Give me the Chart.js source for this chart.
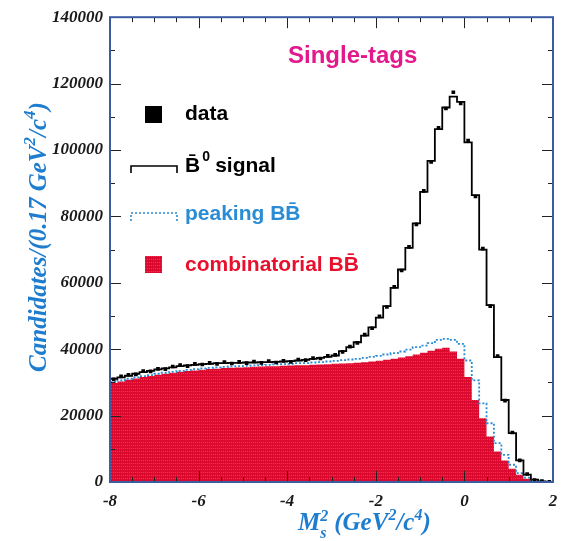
<!DOCTYPE html>
<html>
<head>
<meta charset="utf-8">
<script src="https://cdn.jsdelivr.net/npm/chart.js@4.4.1/dist/chart.umd.min.js"></script>
<style>
  html, body { margin: 0; padding: 0; background: #fff; }
  #wrap { width: 570px; height: 541px; }
</style>
</head>
<body>
<div id="wrap"><canvas id="grafico" width="570" height="541"></canvas></div>
<script>
// binning: 60 bins of 1/6 GeV^2/c^4 from -8 to 2
const xMin = -8
const xMax = 2
const nBins = 60
const binW = (xMax - xMin) / nBins

const xTicks = [-8, -6, -4, -2, 0, 2]
const yTicks = [0, 20000, 40000, 60000, 80000, 100000, 120000, 140000]

// stacked fit: total (signal + peaking + combinatorial)
const totalFit = [31100,31500,32000,32600,33100,33500,33900,34200,34500,34900,
  35100,35300,35500,35600,35800,35800,35900,35900,36000,36000,
  36100,36100,36200,36300,36400,36600,36800,37100,37400,37700,
  38100,39400,40600,42100,44100,46600,49500,53000,58500,64000,
  70500,77900,87400,96700,106300,112800,116100,114500,102300,86400,
  70000,53300,37600,24700,14700,6500,2200,700,200,50]

// peaking BB + combinatorial
const peakingBB = [30100,30600,31100,31500,31900,32200,32600,32900,33200,33500,
  33800,34000,34200,34400,34500,34700,34800,34900,35000,35100,
  35200,35300,35400,35500,35600,35800,35800,36000,36100,36300,
  36500,36700,36900,37100,37400,37700,38000,38400,38800,39300,
  39900,40600,41100,41800,42800,43100,42800,41600,36600,30600,
  23700,17700,11700,8200,5200,2700,1300,400,100,0]

// combinatorial BB
const combBB = [29800,30300,30800,31200,31600,31900,32300,32600,32900,33200,
  33400,33600,33800,34000,34100,34300,34400,34500,34600,34700,
  34800,34900,34900,35000,35100,35200,35200,35300,35400,35500,
  35600,35700,35800,35900,36100,36300,36500,36800,37100,37500,
  37900,38400,38900,39500,40100,40400,39300,37100,31600,24700,
  19200,13700,9200,6500,4000,2200,950,250,60,0]

// data points
const dataPts = [30900,31800,32300,32400,33400,33300,34100,34000,34800,35200,
  34900,35600,35400,35900,35600,36100,35700,36200,35800,36300,
  35900,36400,36000,36500,36200,36900,36700,37300,37200,38000,
  38300,39200,40800,41900,44400,46300,49900,52700,58800,63700,
  70800,77600,87700,96400,106700,112500,117400,114000,102800,86000,
  70300,53000,37900,24500,14900,6500,2400,600,250,80]

const ROJO = '#dc0a2e'
const AZUL = '#2a8cd4'
const AZUL_TITULO = '#1f7dcf'
const MAGENTA = '#e3188c'
const MARCO = '#3b5ca3'

// histogram points at bin edges (stepped line)
function escalones(vals) {
  const pts = vals.map((v, i) => ({ x: xMin + i * binW, y: v }))
  pts.push({ x: xMax, y: vals[vals.length - 1] })
  return pts
}

// red fill with faint dotted texture
function patronRojo() {
  const c = document.createElement('canvas')
  c.width = 4; c.height = 3
  const g = c.getContext('2d')
  g.fillStyle = ROJO
  g.fillRect(0, 0, 4, 3)
  g.fillStyle = '#e33a52'
  g.fillRect(1, 1, 1, 1)
  g.fillRect(3, 1, 1, 1)
  return g.createPattern(c, 'repeat')
}
const rellenoRojo = patronRojo()

const serif = '"Liberation Serif", "DejaVu Serif", serif'
const sans = '"Liberation Sans", Arial, sans-serif'

// draws a list of [text, size, dy] pieces from x,y; returns end x
function piezas(ctx, partes, x, y, estilo, familia) {
  partes.forEach(([t, size, dy]) => {
    ctx.font = estilo + ' ' + size + 'px ' + familia
    ctx.fillText(t, x, y + dy)
    x += ctx.measureText(t).width
  })
  return x
}
function anchoPiezas(ctx, partes, estilo, familia) {
  let w = 0
  partes.forEach(([t, size]) => {
    ctx.font = estilo + ' ' + size + 'px ' + familia
    w += ctx.measureText(t).width
  })
  return w
}

// ticks inside the frame, frame, legend and titles
const decoracion = {
  id: 'decoracion',
  afterDatasetsDraw(chart) {
    const { ctx, chartArea: a, scales } = chart
    const sx = scales.x, sy = scales.y
    ctx.save()
    ctx.strokeStyle = '#222'
    ctx.lineWidth = 1
    ctx.beginPath()
    for (let v = xMin; v <= xMax + 1e-9; v += 0.5) {
      const px = Math.round(sx.getPixelForValue(v)) + 0.5
      const len = xTicks.includes(Math.round(v * 2) / 2) ? 11 : 5
      ctx.moveTo(px, a.bottom); ctx.lineTo(px, a.bottom - len)
      ctx.moveTo(px, a.top); ctx.lineTo(px, a.top + len)
    }
    for (let v = 0; v <= 140000; v += 10000) {
      const py = Math.round(sy.getPixelForValue(v)) + 0.5
      const len = v % 20000 === 0 ? 11 : 5
      ctx.moveTo(a.left, py); ctx.lineTo(a.left + len, py)
      ctx.moveTo(a.right, py); ctx.lineTo(a.right - len, py)
    }
    ctx.stroke()
    ctx.strokeStyle = MARCO
    ctx.lineWidth = 2
    ctx.strokeRect(a.left, a.top, a.right - a.left, a.bottom - a.top)
    ctx.restore()
  },
  afterDraw(chart) {
    const { ctx } = chart
    ctx.save()
    ctx.textBaseline = 'middle'

    // title
    ctx.fillStyle = MAGENTA
    ctx.font = 'bold 24px ' + sans
    ctx.fillText('Single-tags', 288, 56)

    // legend
    const fl = 'bold 21px ' + sans
    ctx.font = fl
    ctx.fillStyle = '#000'
    ctx.fillRect(145, 106, 17, 17)
    ctx.fillText('data', 185, 114)

    ctx.strokeStyle = '#000'
    ctx.lineWidth = 1.6
    ctx.beginPath()
    ctx.moveTo(131, 173); ctx.lineTo(131, 166); ctx.lineTo(177, 166); ctx.lineTo(177, 173)
    ctx.stroke()
    ctx.font = fl
    ctx.fillText('B\u0304', 185, 166)
    let w = ctx.measureText('B').width
    ctx.font = 'bold 14px ' + sans
    ctx.fillText('0', 185 + w + 2, 157)
    ctx.font = fl
    ctx.fillText('signal', 185 + w + 15, 166)

    ctx.strokeStyle = AZUL
    ctx.setLineDash([2, 2])
    ctx.beginPath()
    ctx.moveTo(131, 221); ctx.lineTo(131, 213); ctx.lineTo(177, 213); ctx.lineTo(177, 221)
    ctx.stroke()
    ctx.setLineDash([])
    ctx.fillStyle = AZUL
    ctx.fillText('peaking BB\u0304', 185, 214)

    ctx.fillStyle = rellenoRojo
    ctx.fillRect(145, 256, 17, 17)
    ctx.fillStyle = '#e8112d'
    ctx.fillText('combinatorial BB\u0304', 185, 265)

    // y axis title
    ctx.fillStyle = AZUL_TITULO
    const tituloY = [['Candidates/(0.17 GeV', 25, 0], ['2', 17, -9], ['/c', 25, 0], ['4', 17, -9], [')', 25, 0]]
    const wy = anchoPiezas(ctx, tituloY, 'bold italic', serif)
    ctx.save()
    ctx.translate(40, 237)
    ctx.rotate(-Math.PI / 2)
    piezas(ctx, tituloY, -wy / 2, 0, 'bold italic', serif)
    ctx.restore()

    // x axis title: M_s^2 (GeV^2/c^4)
    const y = 524
    let x = 298
    ctx.font = 'bold italic 25px ' + serif
    ctx.fillText('M', x, y)
    x += ctx.measureText('M').width
    ctx.font = 'bold italic 16px ' + serif
    ctx.fillText('2', x, y - 7)
    ctx.fillText('s', x, y + 10)
    x += 14
    piezas(ctx, [['(GeV', 25, 0], ['2', 16, -8], ['/c', 25, 0], ['4', 16, -8], [')', 25, 0]], x, y, 'bold italic', serif)
    ctx.restore()
  }
}

const fuenteTicks = { family: 'Liberation Serif', size: 17, style: 'italic', weight: 'bold' }

const chart = new Chart(document.getElementById('grafico'), {
  type: 'line',
  data: {
    datasets: [
      {
        type: 'scatter', label: 'data',
        data: dataPts.map((v, i) => ({ x: xMin + (i + 0.5) * binW, y: v })),
        pointStyle: 'rect', pointRadius: 2.6, backgroundColor: '#000', borderColor: '#000',
        borderWidth: 0, showLine: false, order: 0
      },
      {
        label: 'B0 signal', data: escalones(totalFit), stepped: 'before',
        borderColor: '#000', borderWidth: 1.8, pointRadius: 0, fill: false, order: 1
      },
      {
        label: 'peaking BB', data: escalones(peakingBB), stepped: 'before',
        borderColor: AZUL, borderWidth: 1.8, borderDash: [2, 2], pointRadius: 0, fill: false, order: 2
      },
      {
        label: 'combinatorial BB', data: escalones(combBB), stepped: 'before',
        borderColor: ROJO, borderWidth: 0, backgroundColor: rellenoRojo, pointRadius: 0,
        fill: 'origin', order: 3
      }
    ]
  },
  options: {
    responsive: false,
    animation: false,
    events: [],
    layout: { padding: { top: 14, right: 17, left: 0, bottom: 0 } },
    plugins: { legend: { display: false }, tooltip: { enabled: false } },
    scales: {
      x: {
        type: 'linear', min: xMin, max: xMax,
        afterFit: s => { s.height = 59 },
        afterBuildTicks: s => { s.ticks = xTicks.map(v => ({ value: v })) },
        grid: { display: false, drawTicks: false },
        border: { display: false },
        ticks: { font: fuenteTicks, color: '#1a1a1a', padding: 9, maxRotation: 0, callback: v => String(v) }
      },
      y: {
        type: 'linear', min: 0, max: 140000,
        afterFit: s => { s.width = 110 },
        afterBuildTicks: s => { s.ticks = yTicks.map(v => ({ value: v })) },
        grid: { display: false, drawTicks: false },
        border: { display: false },
        ticks: { font: fuenteTicks, color: '#1a1a1a', padding: 7, callback: v => String(v) }
      }
    }
  },
  plugins: [decoracion]
})
</script>
</body>
</html>
